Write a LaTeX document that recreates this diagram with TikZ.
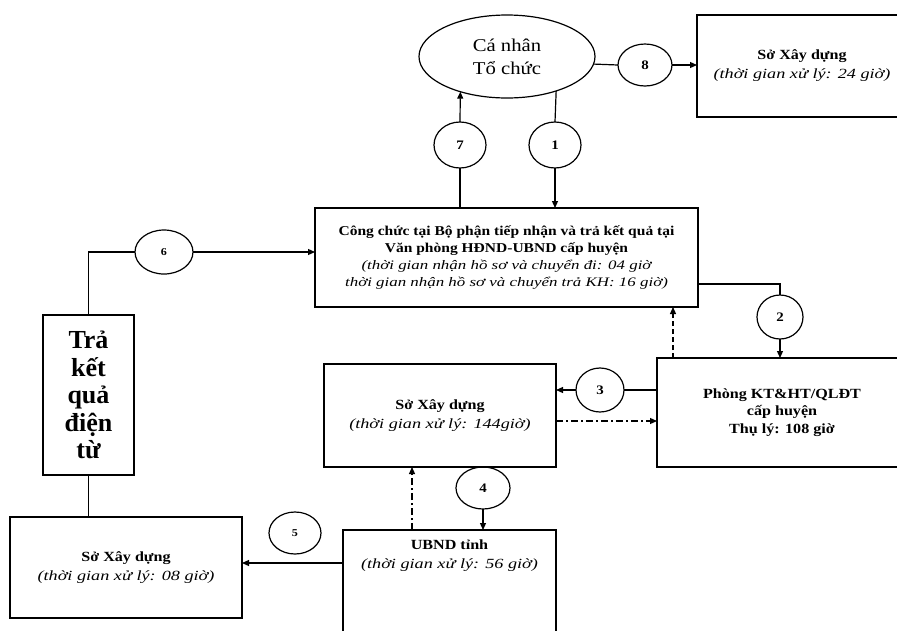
\documentclass[tikz,border=0pt]{standalone}
\usepackage{fontspec}
\setmainfont{Liberation Serif}
\newfontfamily\myr[FakeStretch=1.15]{Liberation Serif}
\newfontfamily\myb[FakeStretch=1.15]{Liberation Serif}
\newfontfamily\myi[FakeStretch=1.3]{Liberation Serif}
\usetikzlibrary{arrows.meta,shapes.geometric,calc}
\tikzset{
  ln/.style={line width=1.2pt, black},
  ar/.style={-{Triangle[length=7pt,width=6pt]}},
  dashdot/.style={dash pattern=on 7pt off 3pt on 2pt off 3pt},
  dsh/.style={dash pattern=on 5pt off 3pt},
  box/.style={draw, line width=1.2pt, rectangle, inner sep=0pt, outer sep=0pt, align=center,
              font=\fontsize{14}{19}\selectfont},
  num/.style={draw, ellipse, line width=1.2pt, inner sep=0pt, outer sep=0pt,
              minimum width=48pt, minimum height=44pt, font=\myb\bfseries\fontsize{13}{15}\selectfont},
  numsm/.style={num, font=\myb\bfseries\fontsize{10.5}{12}\selectfont}
}
\begin{document}
\begin{tikzpicture}[x=1pt,y=-1pt]
\useasboundingbox (0,0) rectangle (897,630);
\fill[white] (0,0) rectangle (897,630);
\clip (0,0) rectangle (897,630);

% nodes
\node[draw, ellipse, line width=1.2pt, inner sep=0pt, outer sep=0pt,
      minimum width=176pt, minimum height=83pt, align=center,
      font=\myr\fontsize{18}{23}\selectfont] (ell) at (507,56.5) {Cá nhân\\Tổ chức};

\node[box, minimum width=210pt, minimum height=102pt] (sxd1) at (802,66)
  {{\myb\bfseries Sở Xây dựng}\\{\myi\itshape (thời gian xử lý: 24 giờ)}};

\node[num, minimum width=54pt, minimum height=42pt] (c8) at (645,65) {8};
\node[num, minimum width=52pt, minimum height=46pt] (c7) at (460,145) {7};
\node[num, minimum width=52pt, minimum height=46pt] (c1) at (555,145) {1};

\node[box, minimum width=383pt, minimum height=99pt, font=\fontsize{13}{17}\selectfont] (main) at (506.5,257.5)
  {{\myb\bfseries\fontsize{13.5}{17}\selectfont Công chức tại Bộ phận tiếp nhận và trả kết quả tại}\\
   {\myb\bfseries\fontsize{13.5}{17}\selectfont Văn phòng HĐND-UBND cấp huyện}\\
   {\myi\itshape (thời gian nhận hồ sơ và chuyển đi: 04 giờ}\\
   {\myi\itshape thời gian nhận hồ sơ và chuyển trả KH: 16 giờ)}};

\node[num, minimum width=46pt] (c2) at (780,317) {2};

\node[box, minimum width=250pt, minimum height=109pt, font=\fontsize{14}{17.5}\selectfont] (phong) at (782,412.5)
  {{\myb\bfseries Phòng KT\&HT/QLĐT}\\{\myb\bfseries cấp huyện}\\{\myb\bfseries Thụ lý: 108 giờ}};

\node[num] (c3) at (600,390) {3};

\node[box, minimum width=232pt, minimum height=103pt] (sxd2) at (440,415.5)
  {{\myb\bfseries Sở Xây dựng}\\{\myi\itshape (thời gian xử lý: 144giờ)}};

\node[num, minimum width=54pt, minimum height=42pt] (c4) at (483,488) {4};

\node[box, minimum width=213pt, minimum height=130pt, anchor=north] (ubnd) at (449.5,530) {};
\node[anchor=north, align=center, inner sep=0pt, font=\fontsize{14}{19}\selectfont] (ubndt)
  at ([yshift=-10pt]ubnd.north)
  {{\myb\bfseries UBND tỉnh}\\{\myi\itshape (thời gian xử lý: 56 giờ)}};

\node[numsm, minimum width=52pt, minimum height=42pt] (c5) at (295,533) {5};

\node[box, minimum width=232pt, minimum height=101pt] (sxd3) at (126,567.5)
  {{\myb\bfseries Sở Xây dựng}\\{\myi\itshape (thời gian xử lý: 08 giờ)}};

\node[box, minimum width=91pt, minimum height=160pt,
      font=\bfseries\fontsize{26}{27.5}\selectfont] (tra) at (88.5,395)
  {Trả\\kết\\quả\\điện\\từ};

\node[numsm, minimum width=58pt, minimum height=44pt] (c6) at (164,252) {6};

% connectors
\draw[ln] (ell.-5.6) -- (c8.west);
\draw[ln, ar] (c8.east) -- (c8.east -| sxd1.west);

\draw[ln] (main.north -| c7) -- (c7.south);
\draw[ln, ar] (c7.north) -- (ell.-143.7);
\draw[ln] (ell.-35.9) -- (c1.north);
\draw[ln, ar] (c1.south) -- (c1.south |- main.north);

\draw[ln] ([yshift=-26.5pt]main.east) -| (c2.north);
\draw[ln, ar] (c2.south) -- (c2.south |- phong.north);
\draw[ln, dsh, ar] ([xshift=16pt]phong.north west) -- ([xshift=16pt]phong.north west |- main.south);

\draw[ln] (phong.west |- c3) -- (c3.east);
\draw[ln, ar] (c3.west) -- (c3.west -| sxd2.east);
\draw[ln, dashdot, ar] ([yshift=-5.5pt]sxd2.east) -- ([yshift=-5.5pt]sxd2.east -| phong.west);

\draw[ln, ar] (c4.south) -- (c4.south |- ubnd.north);
\draw[ln, dashdot, ar] ([xshift=-37.5pt]ubnd.north) -- ([xshift=-37.5pt]ubnd.north |- sxd2.south);

\draw[ln, ar] ([yshift=-33pt]ubnd.north west) -- ([yshift=-33pt]ubnd.north west -| sxd3.east);

\draw[ln] (tra.south) -- (tra.south |- sxd3.north);
\draw[ln] (tra.north) |- (c6.west);
\draw[ln, ar] (c6.east) -- (c6.east -| main.west);
\end{tikzpicture}
\end{document}
